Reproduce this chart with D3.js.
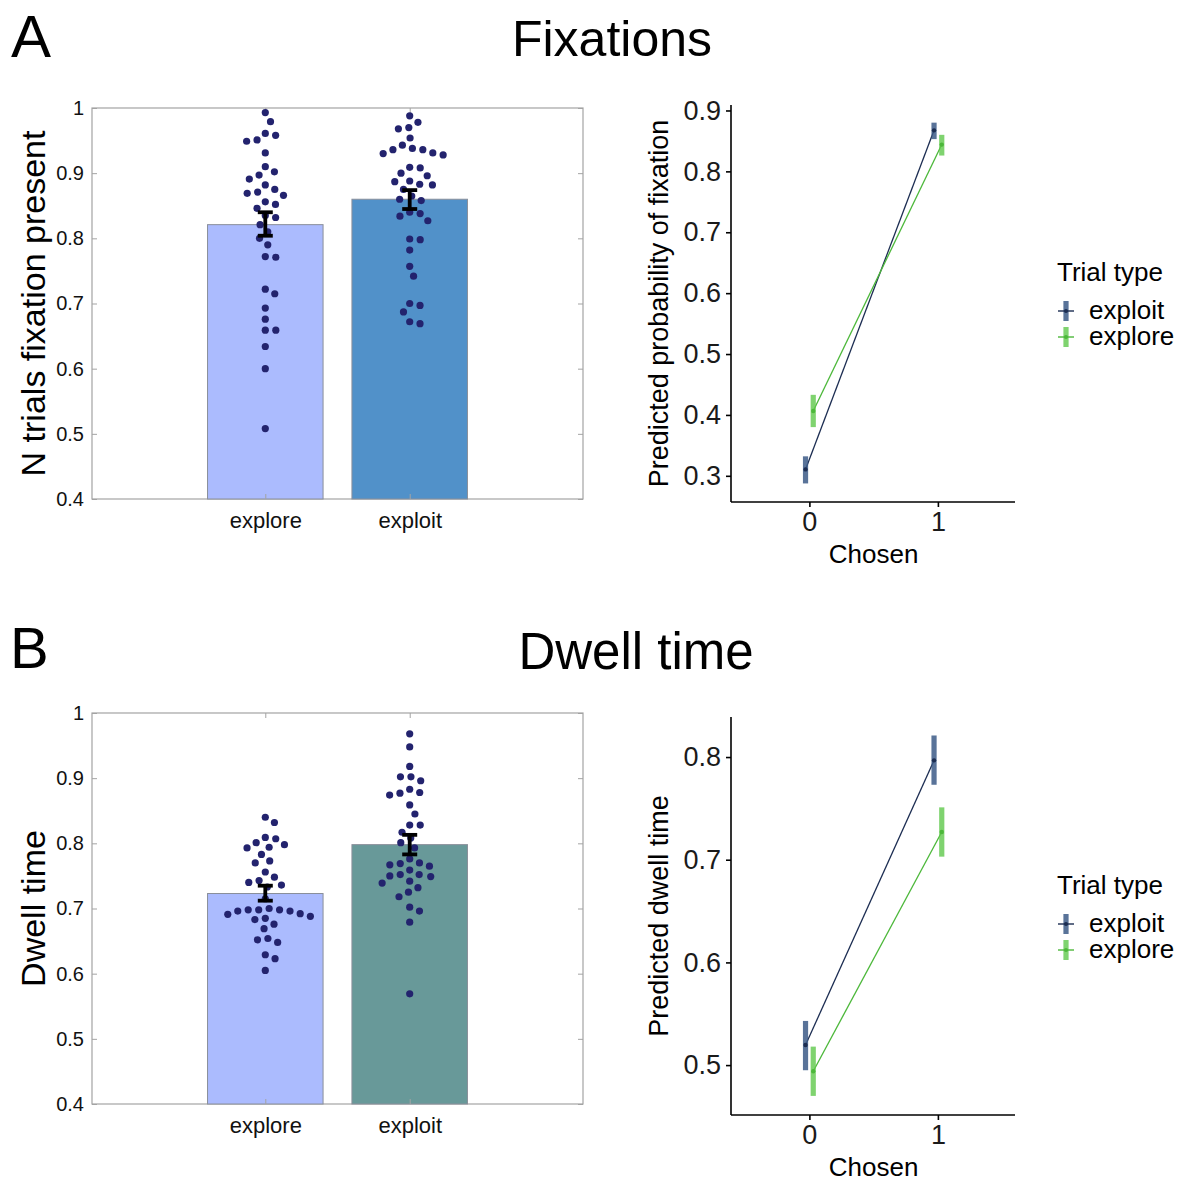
<!DOCTYPE html>
<html>
<head>
<meta charset="utf-8">
<script src="https://cdn.jsdelivr.net/npm/d3@7"></script>
<style>
  html, body { margin: 0; padding: 0; background: #ffffff; }
  svg { display: block; font-family: "Liberation Sans", Arial, Helvetica, sans-serif; }
</style>
</head>
<body>
<svg id="chart" width="1188" height="1182"></svg>
<script>
// ---------------- DATA ----------------
const barCategories = ["explore", "exploit"];

// Panel A (Fixations) - per-participant proportion of trials with fixation present
const fixExploreDots = [0.993, 0.979, 0.961, 0.958, 0.951, 0.949, 0.931, 0.910, 0.902, 0.897,
  0.891, 0.882, 0.875, 0.871, 0.869, 0.866, 0.856, 0.852, 0.846, 0.835, 0.832, 0.821, 0.810,
  0.800, 0.790, 0.772, 0.771, 0.722, 0.715, 0.693, 0.676, 0.659, 0.659, 0.634, 0.600, 0.508];
const fixExploitDots = [0.988, 0.978, 0.970, 0.968, 0.954, 0.943, 0.938, 0.936, 0.936, 0.931,
  0.930, 0.928, 0.909, 0.908, 0.900, 0.896, 0.888, 0.887, 0.883, 0.882, 0.875, 0.865, 0.860,
  0.858, 0.840, 0.838, 0.834, 0.827, 0.799, 0.798, 0.782, 0.757, 0.742, 0.700, 0.697, 0.687,
  0.672, 0.669];
const fixBarMeans = [0.821, 0.860];
const fixBarLow = [0.804, 0.845];
const fixBarHigh = [0.840, 0.874];

// Panel B (Dwell time)
const dwellExploreDots = [0.840, 0.832, 0.809, 0.807, 0.801, 0.798, 0.794, 0.793, 0.783, 0.773,
  0.770, 0.756, 0.748, 0.743, 0.740, 0.736, 0.733, 0.715, 0.700, 0.698, 0.698, 0.698, 0.696,
  0.696, 0.692, 0.691, 0.688, 0.685, 0.683, 0.676, 0.669, 0.654, 0.652, 0.648, 0.629, 0.623, 0.605];
const dwellExploitDots = [0.968, 0.948, 0.918, 0.902, 0.902, 0.896, 0.883, 0.878, 0.877, 0.874,
  0.859, 0.845, 0.828, 0.828, 0.817, 0.808, 0.801, 0.793, 0.776, 0.770, 0.769, 0.767, 0.765,
  0.759, 0.752, 0.752, 0.750, 0.749, 0.742, 0.739, 0.732, 0.725, 0.718, 0.702, 0.696, 0.679, 0.569];
const dwellBarMeans = [0.723, 0.798];
const dwellBarLow = [0.712, 0.783];
const dwellBarHigh = [0.735, 0.813];

const leftTicks = [0.4, 0.5, 0.6, 0.7, 0.8, 0.9, 1];
const leftTickLabels = ["0.4", "0.5", "0.6", "0.7", "0.8", "0.9", "1"];

// Right panels: model predictions by Chosen (0/1) and trial type
const chosenLevels = [0, 1];
const trialTypes = ["exploit", "explore"];

const fixPredExploit = [0.3105, 0.8674];
const fixPredExploitLo = [0.2875, 0.853];
const fixPredExploitHi = [0.332, 0.880];
const fixPredExplore = [0.4064, 0.844];
const fixPredExploreLo = [0.380, 0.826];
const fixPredExploreHi = [0.433, 0.860];
const fixPredTicks = [0.3, 0.4, 0.5, 0.6, 0.7, 0.8, 0.9];

const dwellPredExploit = [0.5195, 0.7968];
const dwellPredExploitLo = [0.495, 0.773];
const dwellPredExploitHi = [0.543, 0.821];
const dwellPredExplore = [0.494, 0.727];
const dwellPredExploreLo = [0.470, 0.703];
const dwellPredExploreHi = [0.518, 0.751];
const dwellPredTicks = [0.5, 0.6, 0.7, 0.8];

// ---------------- STYLE ----------------
const dotColor = "#23236e";
const barColorsA = ["#abbbfe", "#5191c9"];
const barColorsB = ["#abbbfe", "#689999"];
const typeLine = { exploit: "#1c2d52", explore: "#4cb83a" };
const typeBar = { exploit: "rgba(60,90,135,0.85)", explore: "rgba(95,200,75,0.8)" };

const svg = d3.select("#chart");

// ---------------- helpers ----------------
function swarm(vals, y, d) {
  const pts = vals.map(v => ({ v, y: y(v), x: 0 })).sort((a, b) => a.y - b.y);
  const placed = [];
  for (const p of pts) {
    const near = placed.filter(q => Math.abs(q.y - p.y) < d);
    const cands = [0];
    for (const q of near) {
      const dx = Math.sqrt(d * d - (q.y - p.y) ** 2);
      cands.push(q.x + dx + 0.01, q.x - dx - 0.01);
    }
    cands.sort((a, b) => Math.abs(a) - Math.abs(b));
    for (const c of cands) {
      if (near.every(q => (q.x - c) ** 2 + (q.y - p.y) ** 2 >= d * d - 0.05)) { p.x = c; break; }
    }
    placed.push(p);
  }
  return pts;
}

function barPanel(opts) {
  const { top, bottom, dots, means, lo, hi, colors, ylabel } = opts;
  const left = 92, right = 583;
  const x = d3.scaleLinear().domain([-0.2, 3.2]).range([left, right]);
  const y = d3.scaleLinear().domain([0.4, 1]).range([bottom, top]);
  const g = svg.append("g");
  const bw = x(0.8) - x(0);

  // box
  g.append("rect").attr("x", left).attr("y", top).attr("width", right - left).attr("height", bottom - top)
    .attr("fill", "none").attr("stroke", "#a3a3a3").attr("stroke-width", 1.2);

  // y axis ticks (inside)
  const yAxis = d3.axisLeft(y).tickValues(leftTicks).tickFormat((d, i) => leftTickLabels[i])
    .tickSizeInner(-5).tickSizeOuter(0).tickPadding(8);
  const ya = g.append("g").attr("transform", `translate(${left},0)`).call(yAxis);
  ya.select(".domain").remove();
  ya.selectAll("line").attr("stroke", "#a3a3a3");
  ya.selectAll("text").attr("font-size", 20).attr("fill", "#111");
  const yr = g.append("g").attr("transform", `translate(${right},0)`)
    .call(d3.axisRight(y).tickValues(leftTicks).tickSizeInner(-5).tickSizeOuter(0).tickFormat(""));
  yr.select(".domain").remove();
  yr.selectAll("line").attr("stroke", "#a3a3a3");

  // bars
  barCategories.forEach((c, i) => {
    const cx = x(i + 1);
    g.append("rect").attr("x", cx - bw / 2).attr("y", y(means[i]))
      .attr("width", bw).attr("height", y(0.4) - y(means[i]))
      .attr("fill", colors[i]).attr("stroke", "#8a8f9a").attr("stroke-width", 1);
  });

  // x axis (bottom & top ticks)
  const xAxis = d3.axisBottom(x).tickValues([1, 2]).tickFormat((d, i) => barCategories[i])
    .tickSizeInner(-5).tickSizeOuter(0).tickPadding(13);
  const xa = g.append("g").attr("transform", `translate(0,${bottom})`).call(xAxis);
  xa.select(".domain").remove();
  xa.selectAll("line").attr("stroke", "#a3a3a3");
  xa.selectAll("text").attr("font-size", 22).attr("fill", "#111");
  const xt = g.append("g").attr("transform", `translate(0,${top})`)
    .call(d3.axisTop(x).tickValues([1, 2]).tickSizeInner(-5).tickSizeOuter(0).tickFormat(""));
  xt.select(".domain").remove();
  xt.selectAll("line").attr("stroke", "#a3a3a3");

  // dots
  dots.forEach((arr, i) => {
    const cx = x(i + 1);
    const pts = swarm(arr, y, 10.5);
    g.selectAll(null).data(pts).enter().append("circle")
      .attr("cx", d => cx + d.x).attr("cy", d => d.y).attr("r", 3.6).attr("fill", dotColor);
  });

  // error bars
  barCategories.forEach((c, i) => {
    const cx = x(i + 1);
    const eb = g.append("g").attr("stroke", "#000").attr("stroke-width", 3.8);
    eb.append("line").attr("x1", cx).attr("x2", cx).attr("y1", y(lo[i])).attr("y2", y(hi[i]));
    eb.append("line").attr("x1", cx - 7.5).attr("x2", cx + 7.5).attr("y1", y(lo[i])).attr("y2", y(lo[i]));
    eb.append("line").attr("x1", cx - 7.5).attr("x2", cx + 7.5).attr("y1", y(hi[i])).attr("y2", y(hi[i]));
  });

  // y label
  g.append("text").attr("transform", `translate(45,${(top + bottom) / 2}) rotate(-90)`)
    .attr("text-anchor", "middle").attr("font-size", 34).attr("fill", "#000").text(ylabel);
}

function predPanel(opts) {
  const { top, bottom, domain, ticks, series, ylabel, legendY } = opts;
  const left = 731, right = 1015;
  const x = d3.scaleLinear().domain([-0.61, 1.6]).range([left, right]);
  const y = d3.scaleLinear().domain(domain).range([bottom, top]);
  const g = svg.append("g");
  const dodge = { exploit: -0.03, explore: 0.03 };

  const ya = g.append("g").attr("transform", `translate(${left},0)`)
    .call(d3.axisLeft(y).tickValues(ticks).tickFormat(d3.format(".1f")).tickSizeOuter(0).tickSize(5).tickPadding(5));
  ya.select(".domain").attr("d", `M0,${bottom}V${top}`);
  ya.selectAll("path, line").attr("stroke", "#000").attr("stroke-width", 1.6);
  ya.selectAll("text").attr("font-size", 27).attr("fill", "#1a1a1a");

  const xa = g.append("g").attr("transform", `translate(0,${bottom})`)
    .call(d3.axisBottom(x).tickValues(chosenLevels).tickFormat(d3.format("d")).tickSizeOuter(0).tickSize(5).tickPadding(5));
  xa.select(".domain").attr("d", `M${left},0H${right}`);
  xa.selectAll("path, line").attr("stroke", "#000").attr("stroke-width", 1.6);
  xa.selectAll("text").attr("font-size", 27).attr("fill", "#1a1a1a");

  g.append("text").attr("x", (x(0) + x(1)) / 2).attr("y", bottom + 61).attr("text-anchor", "middle")
    .attr("font-size", 26).attr("fill", "#000").text("Chosen");
  g.append("text").attr("transform", `translate(668,${(top + bottom) / 2}) rotate(-90)`)
    .attr("text-anchor", "middle").attr("font-size", 27).attr("fill", "#000").text(ylabel);

  trialTypes.forEach(t => {
    const s = series[t];
    const pts = chosenLevels.map((c, i) => ({ x: x(c + dodge[t]), y: y(s.mean[i]), lo: y(s.lo[i]), hi: y(s.hi[i]) }));
    g.append("path").attr("d", d3.line().x(d => d.x).y(d => d.y)(pts))
      .attr("fill", "none").attr("stroke", typeLine[t]).attr("stroke-width", 1.3);
    g.selectAll(null).data(pts).enter().append("rect")
      .attr("x", d => d.x - 2.6).attr("y", d => d.hi).attr("width", 5.2).attr("height", d => d.lo - d.hi)
      .attr("fill", typeBar[t]);
    g.selectAll(null).data(pts).enter().append("circle")
      .attr("cx", d => d.x).attr("cy", d => d.y).attr("r", 2.2).attr("fill", typeLine[t]);
  });

  // legend
  const lg = g.append("g");
  lg.append("text").attr("x", 1057).attr("y", legendY).attr("font-size", 26).attr("fill", "#000").text("Trial type");
  trialTypes.forEach((t, i) => {
    const cy = legendY + 30 + i * 26;
    lg.append("rect").attr("x", 1066 - 2.6).attr("y", cy - 10).attr("width", 5.2).attr("height", 20).attr("fill", typeBar[t]);
    lg.append("line").attr("x1", 1058).attr("x2", 1074).attr("y1", cy).attr("y2", cy)
      .attr("stroke", typeLine[t]).attr("stroke-width", 1.4);
    lg.append("circle").attr("cx", 1066).attr("cy", cy).attr("r", 2).attr("fill", typeLine[t]);
    lg.append("text").attr("x", 1089).attr("y", cy + 8).attr("font-size", 26).attr("fill", "#000").text(t);
  });
}

// ---------------- titles ----------------
svg.append("text").attr("x", 11).attr("y", 57).attr("font-size", 60).attr("fill", "#000").text("A");
svg.append("text").attr("x", 10).attr("y", 668).attr("font-size", 58).attr("fill", "#000").text("B");
svg.append("text").attr("x", 612).attr("y", 56).attr("text-anchor", "middle").attr("font-size", 50).attr("fill", "#000").text("Fixations");
svg.append("text").attr("x", 636).attr("y", 669).attr("text-anchor", "middle").attr("font-size", 51).attr("fill", "#000").text("Dwell time");

// ---------------- panels ----------------
barPanel({ top: 108, bottom: 499, dots: [fixExploreDots, fixExploitDots], means: fixBarMeans,
  lo: fixBarLow, hi: fixBarHigh, colors: barColorsA, ylabel: "N trials fixation present" });
barPanel({ top: 713, bottom: 1104, dots: [dwellExploreDots, dwellExploitDots], means: dwellBarMeans,
  lo: dwellBarLow, hi: dwellBarHigh, colors: barColorsB, ylabel: "Dwell time" });

predPanel({ top: 105, bottom: 502, domain: [0.257, 0.909], ticks: fixPredTicks,
  series: {
    exploit: { mean: fixPredExploit, lo: fixPredExploitLo, hi: fixPredExploitHi },
    explore: { mean: fixPredExplore, lo: fixPredExploreLo, hi: fixPredExploreHi }
  }, ylabel: "Predicted probability of fixation", legendY: 281 });
predPanel({ top: 717, bottom: 1115, domain: [0.4514, 0.839], ticks: dwellPredTicks,
  series: {
    exploit: { mean: dwellPredExploit, lo: dwellPredExploitLo, hi: dwellPredExploitHi },
    explore: { mean: dwellPredExplore, lo: dwellPredExploreLo, hi: dwellPredExploreHi }
  }, ylabel: "Predicted dwell time", legendY: 894 });
</script>
</body>
</html>
